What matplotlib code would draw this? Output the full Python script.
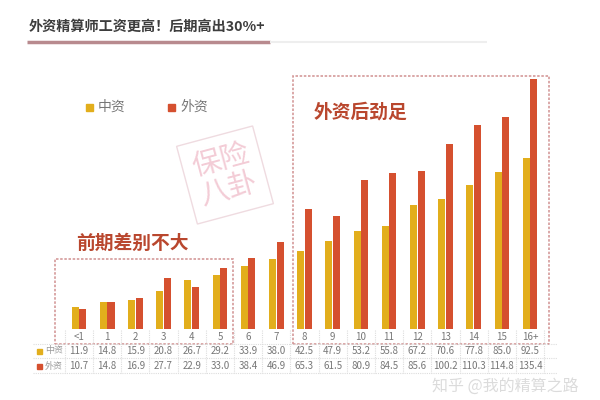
import numpy as np
import matplotlib.pyplot as plt
from matplotlib.lines import Line2D
from matplotlib.patches import Rectangle

plt.rcParams['font.family'] = ['Noto Sans CJK SC', 'DejaVu Sans']

years = ['<1', '1', '2', '3', '4', '5', '6', '7', '8', '9', '10',
         '11', '12', '13', '14', '15', '16+']
domestic = [11.9, 14.8, 15.9, 20.8, 26.7, 29.2, 33.9, 38.0, 42.5, 47.9,
            53.2, 55.8, 67.2, 70.6, 77.8, 85.0, 92.5]
foreign = [10.7, 14.8, 16.9, 27.7, 22.9, 33.0, 38.4, 46.9, 65.3, 61.5,
           80.9, 84.5, 85.6, 100.2, 110.3, 114.8, 135.4]

c_dom = '#E2AE1C'
c_for = '#D5502F'
c_note = '#B9472E'
c_box = '#D49A9A'
c_grid = '#DDDDDD'

W, H = 600, 400
fig = plt.figure(figsize=(6, 4), dpi=100, facecolor='white')


def fx(x):
    return x / W


def fy(y):
    return 1 - y / H


# axes placed in pixel terms
ax_l, ax_r, ax_t, ax_b = 65, 551, 75, 329
ax = fig.add_axes([fx(ax_l), fy(ax_b), (ax_r - ax_l) / W, (ax_b - ax_t) / H])
step = 28.19
ax.set_xlim(-(79 - ax_l) / step, (ax_r - 79) / step)
ax.set_ylim(0, (ax_b - ax_t) / 1.845)
ax.axis('off')

x = np.arange(len(years))
bw = 0.25
ax.bar(x - bw / 2 - 0.01, domestic, bw, color=c_dom)
ax.bar(x + bw / 2 + 0.01, foreign, bw, color=c_for)


def ay(ypx):
    return (ax_b - ypx) / (ax_b - ax_t)


tr = ax.get_xaxis_transform()

# table
for i, lab in enumerate(years):
    ax.text(i, ay(337), lab, transform=tr, ha='center', va='center',
            fontsize=7, color='#777777', clip_on=False)
    ax.text(i, ay(351), f'{domestic[i]:.1f}', transform=tr, ha='center',
            va='center', fontsize=7, color='#777777', clip_on=False)
    ax.text(i, ay(366), f'{foreign[i]:.1f}', transform=tr, ha='center',
            va='center', fontsize=7, color='#777777', clip_on=False)

for ypx in [344, 358, 373]:
    fig.add_artist(Line2D([fx(33), fx(557)], [fy(ypx), fy(ypx)],
                          color=c_grid, lw=0.8, ls=(0, (1, 1))))
for i in range(len(years) + 1):
    xp = 79 + (i - 0.5) * step
    fig.add_artist(Line2D([fx(xp), fx(xp)], [fy(330), fy(373)],
                          color=c_grid, lw=0.8, ls=(0, (1, 1))))

fig.add_artist(Rectangle((fx(37), fy(353.5)), 5 / W, 5 / H, color=c_dom))
fig.add_artist(Rectangle((fx(37), fy(368.5)), 5 / W, 5 / H, color=c_for))
fig.text(fx(45), fy(351), '中资', fontsize=6.5, color='#999999', va='center')
fig.text(fx(45), fy(366), '外资', fontsize=6.5, color='#999999', va='center')

# dashed boxes
fig.add_artist(Rectangle((fx(55), fy(344)), (233 - 55) / W, (344 - 259) / H,
                         fill=False, ec=c_box, lw=1.2, ls=(0, (1.5, 1))))
fig.add_artist(Rectangle((fx(293), fy(344)), (549 - 293) / W, (344 - 76) / H,
                         fill=False, ec=c_box, lw=1.2, ls=(0, (1.5, 1))))

fig.text(fx(76), fy(243), '前期差别不大', fontsize=13.5, fontweight='bold',
         color=c_note, va='center')
fig.text(fx(314), fy(112), '外资后劲足', fontsize=13.5, fontweight='bold',
         color=c_note, va='center')

# legend
fig.add_artist(Rectangle((fx(86), fy(111)), 7 / W, 7 / H, color=c_dom))
fig.text(fx(98), fy(107), '中资', fontsize=10, color='#777777', va='center')
fig.add_artist(Rectangle((fx(168), fy(111)), 7 / W, 7 / H, color=c_for))
fig.text(fx(180), fy(107), '外资', fontsize=10, color='#777777', va='center')

# title
fig.text(fx(29), fy(27), '外资精算师工资更高！后期高出30%+', fontsize=10.2,
         fontweight='bold', color='#3d3d3d', va='center')
fig.add_artist(Line2D([fx(27), fx(270)], [fy(42), fy(42)], color='#B88A8E',
                      lw=2.5, solid_capstyle='butt'))
fig.add_artist(Line2D([fx(270), fx(487)], [fy(42), fy(42)], color='#EEEEEE',
                      lw=1.5, solid_capstyle='butt'))

# watermarks
fig.text(fx(225), fy(175), '保险\n八卦', fontsize=21, color='#F3CCD6',
         rotation=15, ha='center', va='center', linespacing=1.0,
         bbox=dict(boxstyle='square,pad=0.35', fc='none', ec='#EFDBE0', lw=1))
fig.text(fx(505), fy(386), '知乎 @我的精算之路', fontsize=11.5, color='#D8D8D8',
         ha='center', va='center', alpha=0.9)

fig.savefig('out.png', dpi=100, facecolor='white')
